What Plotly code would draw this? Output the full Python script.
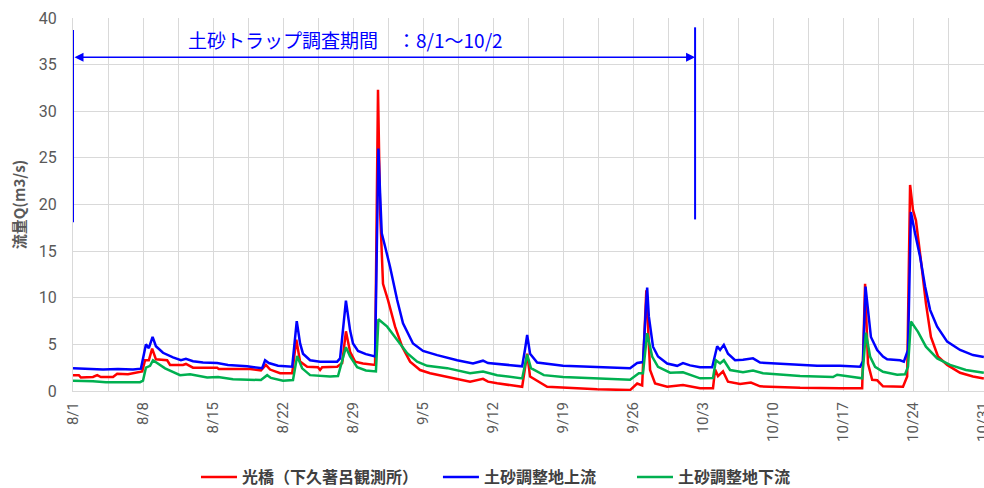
import plotly.graph_objects as go

YEAR = "2023-"

# 光橋（下久著呂観測所）
red_t = ["08-01 00","08-01 14","08-01 19","08-03 00","08-03 10","08-03 19","08-05 00","08-05 10","08-06 12","08-07 12","08-07 22",
         "08-08 05","08-08 14","08-08 22","08-09 07","08-10 10","08-10 17","08-12 00","08-12 07","08-13 00","08-15 10","08-15 14",
         "08-18 17","08-19 19","08-20 07","08-20 17","08-21 17","08-22 22","08-23 08","08-23 17","08-24 10","08-25 12","08-25 17",
         "08-25 22","08-27 10","08-27 22","08-28 07","08-28 17","08-29 05","08-30 00","08-31 05","08-31 12","08-31 17","09-01 00",
         "09-01 12","09-02 05","09-02 22","09-03 17","09-04 17","09-05 17","09-07 10","09-09 17","09-11 00","09-11 12","09-12 10",
         "09-14 22","09-15 10","09-15 17","09-17 10","09-22 10","09-25 17","09-26 10","09-26 22","09-27 08","09-27 17","09-28 05",
         "09-29 10","10-01 00","10-02 17","10-04 00","10-04 05","10-04 12","10-05 00","10-05 12","10-06 17","10-07 19","10-08 17",
         "10-12 17","10-16 17","10-18 22","10-19 05","10-19 12","10-19 22","10-20 10","10-21 00","10-23 00","10-23 10","10-23 17",
         "10-24 00","10-24 07","10-24 19","10-25 07","10-25 19","10-26 12","10-27 10","10-28 17","10-30 00","10-31 02"]
red_q = [1.7,1.7,1.45,1.5,1.7,1.5,1.5,1.85,1.8,2.05,2.1,
         3.3,3.3,4.55,3.4,3.3,2.8,2.8,2.9,2.5,2.5,2.35,
         2.35,2.2,2.8,2.3,1.9,1.9,5.5,3.15,2.6,2.55,2.25,
         2.55,2.6,3.0,6.4,4.2,3.15,2.95,2.8,32.3,19.4,11.5,
         9.75,6.9,4.75,3.15,2.25,1.9,1.55,1.0,1.3,1.0,0.82,
         0.45,4.0,1.55,0.45,0.18,0.1,0.8,0.6,10.8,2.25,0.82,
         0.46,0.65,0.3,0.3,2.3,1.6,2.1,1.0,0.75,0.9,0.5,
         0.35,0.3,0.3,11.5,2.95,1.2,1.15,0.5,0.45,1.55,22.1,
         19.4,18.3,14.0,9.4,5.8,3.7,2.8,1.95,1.55,1.35]

# 土砂調整地上流
blue_t = ["08-01 00","08-02 12","08-04 00","08-05 12","08-07 00","08-07 19","08-08 02","08-08 07","08-08 14","08-08 23","08-09 07",
          "08-10 00","08-11 00","08-11 19","08-12 07","08-13 00","08-14 00","08-15 10","08-16 12","08-18 10","08-19 22","08-20 05",
          "08-20 14","08-21 12","08-22 22","08-23 05","08-23 09","08-23 17","08-24 00","08-24 17","08-25 17","08-26 17","08-27 10",
          "08-27 17","08-28 02","08-28 07","08-28 17","08-29 00","08-29 12","08-30 07","08-31 05","08-31 11","08-31 13","08-31 17",
          "08-31 21","09-01 05","09-01 17","09-02 10","09-03 00","09-04 00","09-05 00","09-06 10","09-08 10","09-10 00","09-11 00",
          "09-11 12","09-12 10","09-14 22","09-15 05","09-15 10","09-15 17","09-16 10","09-19 00","09-22 10","09-25 17","09-26 10",
          "09-27 00","09-27 07","09-27 10","09-27 14","09-28 00","09-28 12","09-29 10","09-30 10","10-01 00","10-01 17","10-02 17",
          "10-03 22","10-04 05","10-04 10","10-04 17","10-05 02","10-05 12","10-06 05","10-07 00","10-08 00","10-08 17","10-11 00",
          "10-14 10","10-16 17","10-18 17","10-19 00","10-19 06","10-19 12","10-19 19","10-20 10","10-21 00","10-21 10","10-22 17",
          "10-23 02","10-23 12","10-23 17","10-23 19","10-24 05","10-24 17","10-25 05","10-25 17","10-26 10","10-27 10","10-28 17",
          "10-30 00","10-31 02"]
blue_q = [2.45,2.4,2.3,2.35,2.3,2.4,3.8,5.0,4.6,5.8,4.8,
          4.1,3.6,3.3,3.45,3.2,3.05,3.0,2.8,2.65,2.45,3.3,
          3.0,2.7,2.6,5.5,7.5,5.1,4.0,3.3,3.15,3.15,3.15,
          3.5,7.2,9.7,6.5,5.1,4.3,3.95,3.7,20.0,26.0,21.2,
          16.9,15.5,13.3,9.75,7.25,5.1,4.3,3.85,3.3,2.95,3.25,
          3.0,2.9,2.65,4.5,6.0,4.0,3.05,2.7,2.55,2.45,3.0,
          3.1,9.0,11.1,8.0,4.75,3.7,2.95,2.7,3.0,2.75,2.55,
          2.55,4.0,4.8,4.4,4.95,4.0,3.3,3.35,3.5,3.05,2.9,
          2.7,2.7,2.6,3.2,11.2,8.7,5.8,4.4,3.7,3.4,3.3,
          3.15,4.4,15.0,19.2,16.9,14.4,11.2,8.7,6.9,5.3,4.4,
          3.85,3.65]

# 土砂調整地下流
green_t = ["08-01 00","08-03 00","08-04 07","08-06 00","08-07 17","08-08 00","08-08 07","08-08 17","08-09 00","08-10 05","08-11 17",
           "08-12 17","08-14 10","08-15 12","08-17 00","08-19 19","08-20 10","08-20 19","08-22 00","08-23 00","08-23 10","08-23 22",
           "08-24 17","08-26 17","08-27 12","08-28 07","08-28 17","08-29 10","08-30 07","08-31 07","08-31 13","09-01 10","09-02 10",
           "09-03 10","09-04 10","09-05 10","09-07 10","09-09 17","09-11 00","09-12 10","09-14 22","09-15 10","09-15 19","09-17 02",
           "09-19 00","09-22 10","09-25 17","09-26 14","09-27 00","09-27 10","09-27 22","09-28 12","09-29 17","10-01 00","10-02 17",
           "10-04 00","10-04 07","10-04 17","10-05 02","10-05 17","10-07 00","10-08 00","10-09 00","10-12 17","10-16 00","10-16 10",
           "10-18 22","10-19 07","10-19 17","10-20 05","10-21 00","10-22 10","10-23 05","10-23 12","10-23 19","10-24 12","10-25 07",
           "10-26 10","10-27 17","10-29 07","10-31 02"]
green_q = [1.1,1.05,0.93,0.95,0.95,1.1,2.5,2.7,3.3,2.43,1.7,
           1.8,1.46,1.5,1.25,1.18,1.7,1.4,1.1,1.18,3.75,2.43,
           1.7,1.55,1.6,4.7,3.7,2.55,2.2,2.1,7.7,6.9,5.45,
           4.05,3.15,2.7,2.45,1.9,2.1,1.7,1.35,3.9,2.45,1.7,
           1.5,1.36,1.2,1.9,1.9,6.2,3.7,2.6,1.96,2.0,1.36,
           1.4,3.3,2.95,3.3,2.25,2.0,2.2,1.9,1.6,1.5,1.75,
           1.36,6.25,3.7,2.6,2.07,1.75,1.8,2.6,7.45,6.35,4.75,
           3.5,2.8,2.25,1.95]

series_names = ["光橋（下久著呂観測所）", "土砂調整地上流", "土砂調整地下流"]
series_colors = ["#ff0000", "#0000ff", "#00b050"]

period_start = "08-01 00:00"
period_end = "10-02 05:00"
period_label = "土砂トラップ調査期間　：8/1～10/2"


def to_dt(lst):
    return [YEAR + s + ":00" for s in lst]


legend_ids = ["legend", "legend2", "legend3"]
legend_x = [0.135, 0.4006, 0.6136]

fig = go.Figure()
for t, q, name, col, lg in zip([red_t, blue_t, green_t], [red_q, blue_q, green_q], series_names, series_colors, legend_ids):
    fig.add_trace(go.Scatter(x=to_dt(t), y=q, mode="lines", name=name, legend=lg,
                             line=dict(color=col, width=2.5)))

legend_font = dict(family="'Noto Sans CJK JP'", size=16, color="#404040", weight="bold")
legends = {}
for lg, lx in zip(legend_ids, legend_x):
    legends[lg] = dict(orientation="h", x=lx, xanchor="left", y=-0.185, yanchor="top",
                       font=legend_font, itemwidth=36, bgcolor="rgba(0,0,0,0)")

DAY = 86400000
fig.update_layout(
    width=984, height=488,
    margin=dict(l=73, r=0, t=18, b=97, autoexpand=False),
    plot_bgcolor="white", paper_bgcolor="white",
    font=dict(family="Roboto, 'Noto Sans CJK JP'", color="#595959", size=14),
    showlegend=True,
    xaxis=dict(
        type="date", automargin=False,
        range=[YEAR + "08-01 00:00", YEAR + "10-31 02:24"],
        tick0=YEAR + "08-01", dtick=7 * DAY, tickformat="%-m/%-d",
        tickangle=-90, showgrid=True, gridcolor="#d9d9d9", gridwidth=1,
        minor=dict(dtick=3.5 * DAY, tick0=YEAR + "08-01", showgrid=True, gridcolor="#d9d9d9", gridwidth=1),
        showline=True, linecolor="#d9d9d9", ticks="", zeroline=False,
        tickfont=dict(size=15, color="#595959"), ticklabelstandoff=4, ticklabeloverflow="allow",
    ),
    yaxis=dict(
        automargin=False,
        range=[0, 40], dtick=5, showgrid=True, gridcolor="#d9d9d9", gridwidth=1,
        showline=True, linecolor="#d9d9d9", zeroline=False, ticks="",
        tickfont=dict(size=16, color="#595959"), ticklabelstandoff=12,
        title=dict(text="流量Q(m3/s)", font=dict(family="'Noto Sans CJK JP'", size=15, color="#595959", weight="bold"), standoff=9),
    ),
    **legends,
)

# survey period markers
fig.add_shape(type="line", xref="x", yref="y", x0=YEAR + period_start, x1=YEAR + period_start, y0=18.1, y1=38.7,
              line=dict(color="#0000ff", width=2))
fig.add_shape(type="line", xref="x", yref="y", x0=YEAR + period_end, x1=YEAR + period_end, y0=18.4, y1=39.0,
              line=dict(color="#0000ff", width=2))
fig.add_annotation(x=YEAR + period_end, y=35.8, ax=YEAR + period_start, ay=35.8, xref="x", yref="y", axref="x", ayref="y",
                   showarrow=True, arrowhead=2, arrowside="end+start", arrowsize=1.2, arrowwidth=1.5, arrowcolor="#0000ff", text="")
fig.add_annotation(x=YEAR + "08-28 05:00", y=37.7, xref="x", yref="y", text=period_label, showarrow=False,
                   font=dict(family="'Noto Sans CJK JP'", size=19, color="#0000ff"))

fig.write_html("out.html", config={"displayModeBar": False},
               post_script="document.body.style.margin='0';document.body.style.overflow='hidden';")
